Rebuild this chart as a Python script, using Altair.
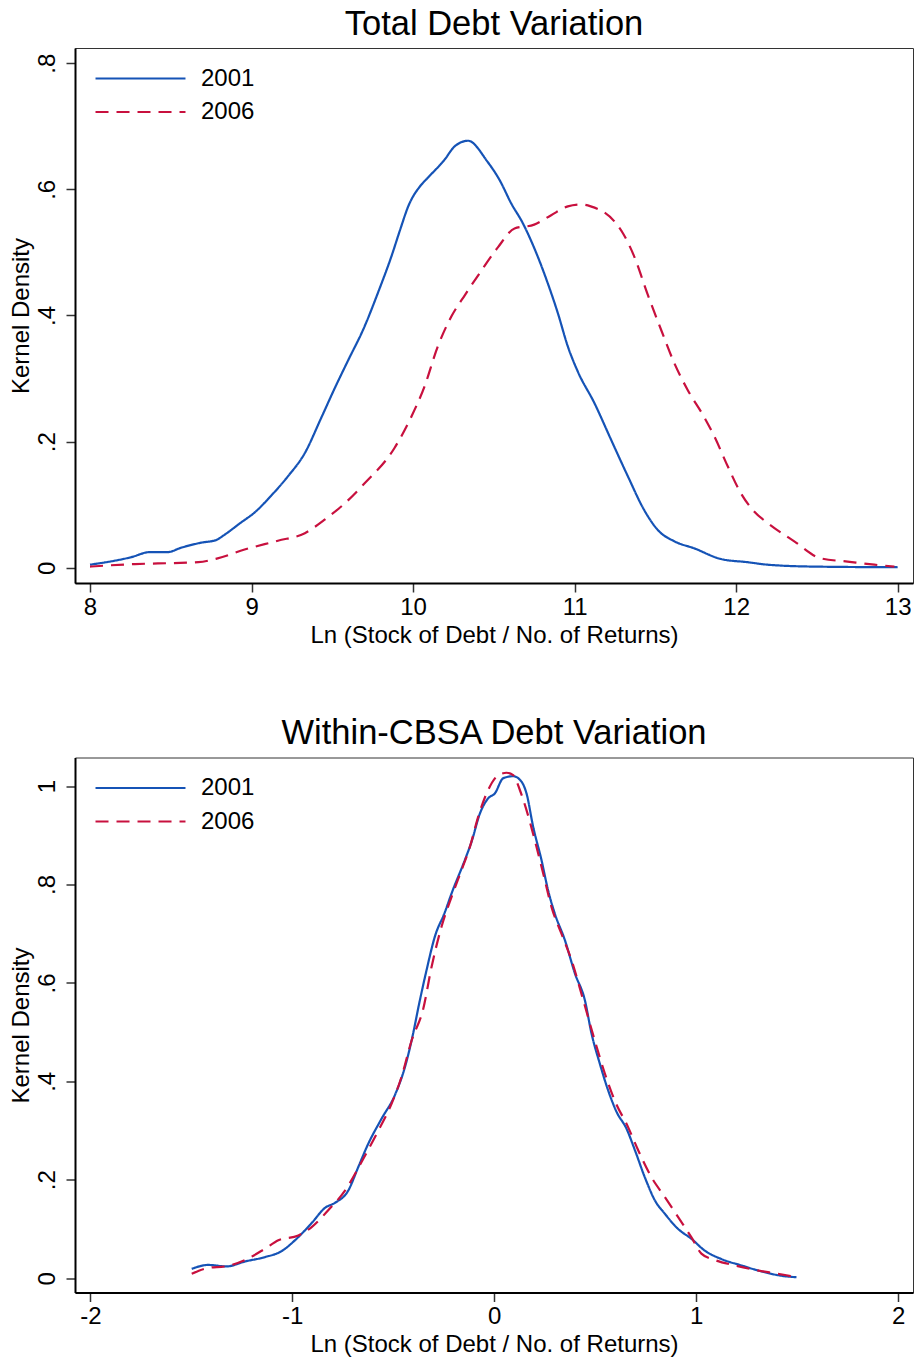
import altair as alt
import pandas as pd

YEARS = ["2001", "2006"]
COLORS = ["#1553b6", "#c8103e"]
DASHES = [[1, 0], [13, 8]]

# Panel 1: Total Debt Variation
t01_x = [8.00, 8.256, 8.37, 8.48, 8.565, 8.69, 8.78, 8.83, 8.93, 9.02, 9.12, 9.225, 9.33, 9.43, 9.51,
         9.60, 9.69, 9.79, 9.865, 9.92, 9.97, 10.05, 10.09, 10.195, 10.257, 10.34, 10.46, 10.535, 10.607,
         10.68, 10.75, 10.834, 10.896, 10.958, 11.02, 11.123, 11.226, 11.33, 11.43, 11.515, 11.618, 11.74,
         11.906, 12.07, 12.195, 12.48, 13.0]
t01_y = [0.005, 0.017, 0.025, 0.025, 0.032, 0.040, 0.044, 0.052, 0.071, 0.088, 0.114, 0.145, 0.182, 0.237,
         0.282, 0.330, 0.377, 0.441, 0.493, 0.536, 0.573, 0.607, 0.618, 0.647, 0.668, 0.677, 0.644, 0.615,
         0.578, 0.546, 0.507, 0.451, 0.404, 0.351, 0.311, 0.261, 0.203, 0.145, 0.092, 0.060, 0.042, 0.031,
         0.014, 0.009, 0.005, 0.002, 0.001]
t06_x = [8.0, 8.277, 8.42, 8.67, 8.79, 8.957, 9.163, 9.33, 9.45, 9.576, 9.70, 9.885, 9.99, 10.07, 10.153,
         10.236, 10.32, 10.42, 10.525, 10.628, 10.75, 10.855, 10.958, 11.04, 11.10, 11.247, 11.30, 11.37,
         11.45, 11.536, 11.618, 11.70, 11.80, 11.866, 11.948, 12.03, 12.113, 12.196, 12.36, 12.525, 12.69,
         12.856, 12.98]
t06_y = [0.002, 0.006, 0.007, 0.009, 0.015, 0.029, 0.043, 0.055, 0.076, 0.102, 0.134, 0.190, 0.240, 0.287,
         0.351, 0.398, 0.432, 0.470, 0.508, 0.538, 0.544, 0.559, 0.573, 0.576, 0.573, 0.549, 0.530, 0.493,
         0.435, 0.377, 0.324, 0.282, 0.240, 0.208, 0.161, 0.118, 0.089, 0.071, 0.042, 0.015, 0.010, 0.005,
         0.002]

# Panel 2: Within-CBSA Debt Variation
w01_x = [-1.498, -1.416, -1.325, -1.234, -1.135, -1.053, -0.987, -0.904, -0.838, -0.789, -0.723, -0.673,
         -0.624, -0.558, -0.492, -0.442, -0.409, -0.368, -0.335, -0.294, -0.244, -0.211, -0.145, -0.112,
         -0.071, -0.030, 0.003, 0.045, 0.094, 0.135, 0.160, 0.193, 0.234, 0.267, 0.300, 0.350, 0.400, 0.449,
         0.482, 0.523, 0.564, 0.606, 0.655, 0.697, 0.746, 0.796, 0.845, 0.911, 0.977, 1.043, 1.125, 1.224,
         1.323, 1.422, 1.497]
w01_y = [0.019, 0.027, 0.024, 0.034, 0.043, 0.055, 0.077, 0.112, 0.143, 0.153, 0.178, 0.226, 0.273, 0.324,
         0.372, 0.429, 0.483, 0.565, 0.626, 0.694, 0.744, 0.782, 0.850, 0.887, 0.944, 0.975, 0.985, 1.016,
         1.020, 1.009, 0.985, 0.917, 0.850, 0.788, 0.741, 0.687, 0.619, 0.565, 0.497, 0.436, 0.382, 0.338,
         0.304, 0.260, 0.205, 0.158, 0.131, 0.100, 0.080, 0.056, 0.039, 0.026, 0.014, 0.005, 0.002]
w06_x = [-1.498, -1.416, -1.333, -1.234, -1.135, -1.069, -0.970, -0.904, -0.822, -0.739, -0.657, -0.574,
         -0.508, -0.459, -0.409, -0.351, -0.310, -0.261, -0.211, -0.162, -0.120, -0.079, -0.030, 0.020,
         0.061, 0.094, 0.127, 0.160, 0.201, 0.243, 0.284, 0.333, 0.383, 0.441, 0.498, 0.548, 0.597, 0.663,
         0.713, 0.779, 0.845, 0.911, 0.977, 1.026, 1.093, 1.192, 1.290, 1.390, 1.489]
w06_y = [0.009, 0.021, 0.024, 0.037, 0.060, 0.077, 0.087, 0.104, 0.138, 0.178, 0.236, 0.300, 0.355, 0.409,
         0.483, 0.548, 0.633, 0.714, 0.775, 0.829, 0.877, 0.938, 0.992, 1.022, 1.027, 1.022, 0.992, 0.951,
         0.890, 0.822, 0.754, 0.700, 0.646, 0.565, 0.483, 0.416, 0.361, 0.307, 0.260, 0.205, 0.165, 0.124,
         0.083, 0.050, 0.037, 0.026, 0.017, 0.010, 0.003]

TOP_XTICKS = [8, 9, 10, 11, 12, 13]
TOP_YTICKS = [0, 0.2, 0.4, 0.6, 0.8]
BOT_XTICKS = [-2, -1, 0, 1, 2]
BOT_YTICKS = [0, 0.2, 0.4, 0.6, 0.8, 1]

XTITLE = "Ln (Stock of Debt / No. of Returns)"
YTITLE = "Kernel Density"


def frame(xs01, ys01, xs06, ys06):
    a = pd.DataFrame({"x": xs01, "y": ys01, "year": YEARS[0]})
    b = pd.DataFrame({"x": xs06, "y": ys06, "year": YEARS[1]})
    return pd.concat([a, b], ignore_index=True)


def legend():
    return alt.Legend(
        title=None, orient="none", legendX=53, legendY=18, padding=0,
        symbolType="M-4,0H4", symbolSize=506, symbolStrokeWidth=2.2,
        labelFontSize=24, labelOffset=48, rowPadding=8.5, labelColor="black",
        labelFont="Liberation Sans",
    )


def panel(df, title, xdom, ydom, xticks, yticks):
    return alt.Chart(df).mark_line(strokeWidth=2.2, interpolate="monotone", clip=True).encode(
        x=alt.X("x:Q", scale=alt.Scale(domain=xdom, nice=False, zero=False),
                axis=alt.Axis(values=xticks, title=XTITLE, labelExpr="'' + datum.value")),
        y=alt.Y("y:Q", scale=alt.Scale(domain=ydom, nice=False, zero=False),
                axis=alt.Axis(values=yticks, title=YTITLE,
                              labelExpr="datum.value == 0 ? '0' : (datum.value == 1 ? '1' : '.' + format(datum.value * 10, 'd'))")),
        color=alt.Color("year:N", scale=alt.Scale(domain=YEARS, range=COLORS), legend=legend()),
        strokeDash=alt.StrokeDash("year:N", scale=alt.Scale(domain=YEARS, range=DASHES), legend=legend()),
    ).properties(width=838, height=535, title=alt.TitleParams(title))


top = panel(frame(t01_x, t01_y, t06_x, t06_y), "Total Debt Variation",
            [7.907, 13.095], [-0.024, 0.824], TOP_XTICKS, TOP_YTICKS)
bot = panel(frame(w01_x, w01_y, w06_x, w06_y), "Within-CBSA Debt Variation",
            [-2.076, 2.074], [-0.029, 1.058], BOT_XTICKS, BOT_YTICKS)

chart = alt.vconcat(top, bot, spacing=67.5).resolve_scale(
    color="independent", strokeDash="independent",
).resolve_legend(
    color="independent", strokeDash="independent",
).properties(
    padding={"left": 8, "top": 6, "right": 2, "bottom": 5},
    background="white",
).configure(
    font="Liberation Sans",
).configure_view(
    stroke="#333333", strokeWidth=1,
).configure_title(
    fontSize=34.5, font="Liberation Sans", fontWeight="normal", color="black",
    frame="group", anchor="middle", baseline="alphabetic", offset=6,
).configure_axis(
    grid=False, domainColor="black", domainWidth=2,
    tickColor="#333333", tickWidth=1.5, tickSize=9,
    labelFontSize=24, labelFont="Liberation Sans", labelColor="black",
    titleFontSize=24, titleFont="Liberation Sans", titleColor="black", titleFontWeight="normal",
).configure_axisX(
    labelPadding=3, titlePadding=4,
).configure_axisY(
    labelAngle=270, labelAlign="center", labelBaseline="alphabetic", labelPadding=12,
    titlePadding=2,
)

chart.save("out.html", embed_options={"renderer": "svg", "actions": False})
